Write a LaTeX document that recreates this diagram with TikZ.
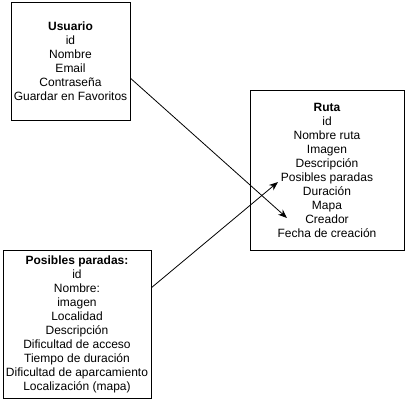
\documentclass[tikz,border=0pt]{standalone}
\usepackage{fontspec}
\setmainfont{Liberation Sans}
\usetikzlibrary{arrows.meta}
\begin{document}
\begin{tikzpicture}[x=1pt,y=-1pt,
				entidad/.style={draw,rectangle,line width=0.8pt,align=center,inner sep=0pt,
					font=\fontsize{12}{14}\selectfont},
				flecha/.style={-{Stealth[length=9pt,width=7pt]},line width=0.8pt}]
\useasboundingbox (0,0) rectangle (411,401);
\node[entidad,minimum width=119pt,minimum height=118pt] (usuario) at (70.5,61)
	{\textbf{Usuario}\\id\\Nombre\\Email\\Contraseña\\Guardar en Favoritos};
\node[entidad,minimum width=154pt,minimum height=160pt] (ruta) at (327,170)
	{\textbf{Ruta}\\id\\Nombre ruta\\Imagen\\Descripción\\Posibles paradas\\Duración\\Mapa\\Creador\\Fecha de creación};
\node[entidad,minimum width=148pt,minimum height=148pt] (paradas) at (77,324)
	{\textbf{Posibles paradas:}\\id\\Nombre:\\imagen\\Localidad\\Descripción\\Dificultad de acceso\\Tiempo de duración\\Dificultad de aparcamiento\\Localización (mapa)};
\coordinate (creador) at (287,218);
\coordinate (posibles) at (278,182);
\draw[flecha] (usuario.-16) -- (creador);
\draw[flecha] (paradas.26) -- (posibles);
\end{tikzpicture}
\end{document}
